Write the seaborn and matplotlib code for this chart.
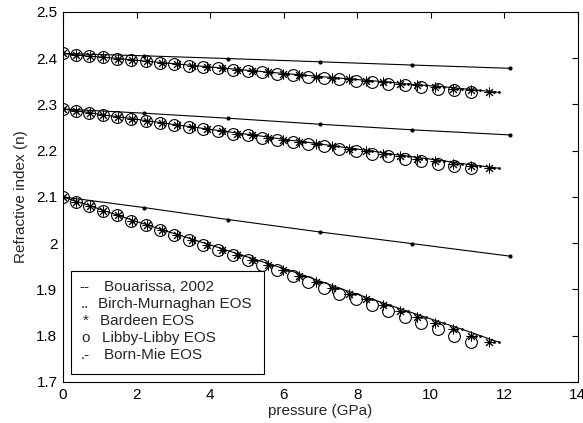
import numpy as np
import pandas as pd
import matplotlib
matplotlib.use("Agg")
import matplotlib.pyplot as plt
import seaborn as sns
from matplotlib.patches import Rectangle
from matplotlib.ticker import FuncFormatter, MultipleLocator

# Pressure (GPa) at each compression step, per equation of state
p_libby = [0, 0.36, 0.72, 1.09, 1.47, 1.86, 2.25, 2.64, 3.03, 3.42, 3.82, 4.22, 4.62, 5.02,
           5.42, 5.83, 6.25, 6.67, 7.09, 7.52, 7.96, 8.40, 8.84, 9.29, 9.74, 10.19, 10.64, 11.09]
p_bardeen = [0, 0.36, 0.73, 1.10, 1.49, 1.89, 2.29, 2.69, 3.09, 3.50, 3.91, 4.32, 4.74, 5.15,
             5.57, 5.99, 6.43, 6.87, 7.32, 7.77, 8.23, 8.70, 9.16, 9.63, 10.11, 10.60, 11.09, 11.58]
p_birch = [0, 0.37, 0.73, 1.11, 1.50, 1.90, 2.30, 2.71, 3.12, 3.53, 3.95, 4.37, 4.79, 5.21,
           5.64, 6.07, 6.51, 6.95, 7.40, 7.86, 8.32, 8.79, 9.27, 9.75, 10.23, 10.72, 11.22, 11.72]
p_bornmie = [0, 0.37, 0.74, 1.12, 1.51, 1.91, 2.32, 2.73, 3.14, 3.56, 3.98, 4.40, 4.83, 5.26,
             5.69, 6.13, 6.57, 7.02, 7.48, 7.94, 8.41, 8.89, 9.37, 9.86, 10.35, 10.85, 11.35, 11.85]

# Refractive index at each compression step, per compound
n_top = [2.410, 2.407, 2.404, 2.402, 2.399, 2.396, 2.393, 2.390, 2.387, 2.384, 2.381, 2.378,
         2.375, 2.372, 2.369, 2.366, 2.363, 2.360, 2.357, 2.354, 2.351, 2.348, 2.344, 2.341,
         2.338, 2.334, 2.330, 2.326]
n_mid = [2.290, 2.286, 2.282, 2.277, 2.273, 2.269, 2.264, 2.260, 2.255, 2.251, 2.246, 2.242,
         2.237, 2.233, 2.228, 2.223, 2.219, 2.214, 2.209, 2.204, 2.199, 2.193, 2.188, 2.183,
         2.178, 2.172, 2.167, 2.162]
n_bot = [2.100, 2.090, 2.081, 2.070, 2.060, 2.049, 2.039, 2.028, 2.018, 2.007, 1.997, 1.986,
         1.975, 1.964, 1.953, 1.942, 1.930, 1.917, 1.904, 1.891, 1.879, 1.866, 1.853, 1.840,
         1.827, 1.814, 1.800, 1.786]

# Bouarissa (2002) reference curves
p_bouarissa = [0, 2.2, 4.5, 7.0, 9.5, 12.15]
nb_top = [2.410, 2.405, 2.399, 2.392, 2.385, 2.378]
nb_mid = [2.290, 2.281, 2.270, 2.257, 2.245, 2.234]
nb_bot = [2.100, 2.077, 2.051, 2.024, 1.999, 1.972]

legend_symbols = ["--", "..", "*", "o", ".-"]
legend_labels = ["Bouarissa, 2002", "Birch-Murnaghan EOS", "Bardeen EOS",
                 "Libby-Libby EOS", "Born-Mie EOS"]

sns.set_style("white")
plt.rcParams["font.family"] = ["Liberation Sans", "DejaVu Sans"]

fig = plt.figure(figsize=(5.83, 4.23), dpi=100)
ax = fig.add_axes([0.108, 0.097, 0.883, 0.875])

ink = "black"
common = dict(ax=ax, color=ink, estimator=None, sort=False,
              markeredgecolor=ink)
for n_vals, nb_vals in [(n_top, nb_top), (n_mid, nb_mid), (n_bot, nb_bot)]:
    # Bouarissa: thin solid line with small dots
    sns.lineplot(x=p_bouarissa, y=nb_vals, lw=0.8, marker=".", markersize=6,
                 markeredgewidth=0, **common)
    # Born-Mie: line with dots
    sns.lineplot(x=p_bornmie, y=n_vals, lw=0.8, marker=".", markersize=4,
                 markeredgewidth=0, **common)
    # Birch-Murnaghan: dots only
    sns.lineplot(x=p_birch, y=n_vals, linestyle="", marker=".", markersize=4,
                 markeredgewidth=0, **common)
    # Bardeen: asterisks
    sns.lineplot(x=p_bardeen, y=n_vals, linestyle="", marker=(8, 2, 0), markersize=7,
                 markeredgewidth=0.7, **common)
    # Libby-Libby: open circles
    sns.lineplot(x=p_libby, y=n_vals, linestyle="", marker="o", markersize=8.5,
                 markerfacecolor="none", markeredgewidth=0.8, **common)

ax.set_xlim(0, 14)
ax.set_ylim(1.7, 2.5)
ax.xaxis.set_major_locator(MultipleLocator(2))
ax.yaxis.set_major_locator(MultipleLocator(0.1))
ax.yaxis.set_major_formatter(FuncFormatter(lambda v, _: f"{v:g}"))
ax.tick_params(direction="in", length=4, width=0.8, top=True, right=True,
               labelsize=11, colors="black", pad=4)
for s in ax.spines.values():
    s.set_color("black")
    s.set_linewidth(0.8)
    s.set_visible(True)

ax.set_xlabel("pressure (GPa)", fontsize=11, labelpad=2)
ax.set_ylabel("Refractive index (n)", fontsize=11, labelpad=6)

# Legend box drawn as text entries inside a frame
fig.add_artist(Rectangle((71 / 583, 1 - 374 / 423), 193 / 583, 103 / 423,
                         transform=fig.transFigure, fill=True, facecolor="white",
                         edgecolor="black", lw=0.8, zorder=5))
sym_x = [79, 81, 83, 81, 81]
lab_x = [104, 98, 100, 102, 104]
row_y = [287, 304, 321, 338, 355]
for s, lab, sx, lx, ry in zip(legend_symbols, legend_labels, sym_x, lab_x, row_y):
    fig.text(sx / 583, 1 - ry / 423, s, fontsize=11, va="center", ha="left", zorder=6)
    fig.text(lx / 583, 1 - ry / 423, lab, fontsize=11, va="center", ha="left", zorder=6)

fig.savefig("out.png", dpi=100)
